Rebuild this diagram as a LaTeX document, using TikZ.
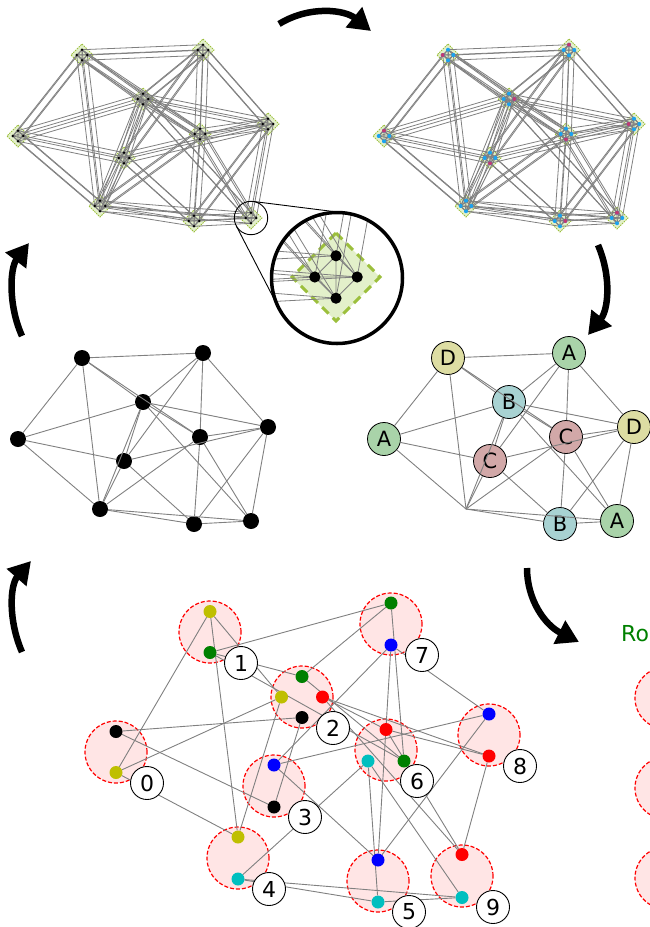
\documentclass[tikz,border=0pt]{standalone}
\usepackage{fontspec}
\setmainfont{DejaVu Sans}
\usetikzlibrary{arrows.meta,calc}
\pgfdeclarelayer{back}
\pgfdeclarelayer{mid}
\pgfsetlayers{back,mid,main}

\definecolor{edgegray}{HTML}{808080}
\definecolor{boxfill}{HTML}{E3F0CA}
\definecolor{boxline}{HTML}{9CBF3C}
\definecolor{pickblue}{HTML}{1AA3F0}
\definecolor{pickmag}{HTML}{C23A72}
\definecolor{colA}{HTML}{A9D3A9}
\definecolor{colB}{HTML}{A8D2D2}
\definecolor{colC}{HTML}{D2A8A8}
\definecolor{colD}{HTML}{DDDDA3}
\definecolor{doty}{HTML}{BFBF00}
\definecolor{dotg}{HTML}{008000}
\definecolor{dotr}{HTML}{FF0000}
\definecolor{dotb}{HTML}{0000FF}
\definecolor{dotc}{HTML}{00BFBF}
\definecolor{dotk}{HTML}{000000}
\definecolor{roundpink}{HTML}{FFE5E5}

% base graph: node/x/y and its edges
\newcommand\basepos{1/82/358,2/203/353,3/143/402,4/18/439,5/200/437,6/268/427,7/124/461,8/100/509,9/194/524,10/251/521}
\newcommand\baseedges{1/2,1/4,1/8,1/3,1/5,2/3,2/7,2/5,2/6,4/3,4/7,4/8,3/7,3/8,3/5,3/6,3/10,5/6,7/6,5/9,5/10,6/9,6/10,7/8,7/9,8/5,8/9,8/10,9/10}

\tikzset{
  thinedge/.style={draw=edgegray, line width=0.8pt},
  graphedge/.style={draw=edgegray, line width=0.9pt},
  clusterbox/.style={fill=boxfill, draw=boxline, line width=0.9pt, dash pattern=on 1.5pt off 1pt},
  smalldot/.style={fill=black},
  blackdot/.style={circle, fill=black, minimum size=16pt, inner sep=0pt},
  letter/.style={circle, draw=black, line width=0.8pt, minimum size=33pt, inner sep=0pt, font=\fontsize{21}{21}\selectfont},
  roundcircle/.style={circle, draw=red, line width=1.2pt, dash pattern=on 4pt off 2pt, fill=roundpink, minimum size=62pt, inner sep=0pt},
  qdot/.style={circle, minimum size=13pt, inner sep=0pt},
  numlabel/.style={circle, draw=black, fill=white, line width=0.9pt, minimum size=33pt, inner sep=0pt, font=\fontsize{22}{22}\selectfont},
  bigarrow/.style={line width=6.5pt, -{Triangle[length=22pt,width=25pt]}},
}

% every node of the base graph as four dots in a diamond
\newcommand\expandedgraph[2]{%
  \foreach \i/\x/\y in \basepos {
    \coordinate (#1\i) at (\x,\y);
    \coordinate (#1\i-t) at (\x,\y-5.3);
    \coordinate (#1\i-r) at (\x+5.3,\y);
    \coordinate (#1\i-b) at (\x,\y+5.3);
    \coordinate (#1\i-l) at (\x-5.3,\y);
    \draw[clusterbox] (#1\i) ++(0,-11) -- ++(11,11) -- ++(-11,11) -- ++(-11,-11) -- cycle;
  }
  \foreach \u/\v in \baseedges {
    \foreach \k in {t,r,b,l} {\draw[thinedge] (#1\u-\k) -- (#1\v-\k);}
  }
  \foreach \i in {1,...,10} {
    \draw[thinedge] (#1\i-t) -- (#1\i-r) -- (#1\i-b) -- (#1\i-l) -- cycle
      (#1\i-t) -- (#1\i-b) (#1\i-l) -- (#1\i-r);
    \foreach \k in {t,r,b,l} {\fill[smalldot] (#1\i-\k) circle (#2);}
  }
}

\begin{document}
\begin{tikzpicture}[x=1pt,y=-1pt]
  \useasboundingbox (0,0) rectangle (650,927);
  \clip (0,0) rectangle (650,927);

  % expanded graph, top left
  \begin{scope}[shift={(0,-303)}]
    \expandedgraph{tl}{1.4}
  \end{scope}

  % expanded graph with picked dots, top right
  \begin{scope}[shift={(366,-303)}, smalldot/.style={fill=pickblue}]
    \expandedgraph{tr}{2}
    \foreach \i/\k in {1/l,2/t,3/r,4/t,5/b,6/l,7/b,9/r,10/t}
      \fill[pickmag] (tr\i-\k) circle (2);
  \end{scope}

  % lens on one cluster
  \coordinate (lens) at (337,278);
  \begin{scope}
    \clip (lens) circle (65.5);
    \fill[white] (lens) circle (65.5);
    \begin{scope}[shift={(336,277)}, scale=4, shift={(-251,-521)},
        clusterbox/.style={fill=boxfill, draw=boxline, line width=3pt, dash pattern=on 9pt off 6pt}]
      \expandedgraph{mg}{1.4}
    \end{scope}
  \end{scope}
  \draw[line width=3.5pt] (lens) circle (65.5);
  \draw[line width=0.9pt] (tl10) circle (16.7);
  \coordinate (tana) at ($(tl10)+(-82.8:16.7)$);
  \coordinate (tanb) at ($(lens)+(-82.8:65.5)$);
  \coordinate (tanc) at ($(tl10)+(152.6:16.7)$);
  \coordinate (tand) at ($(lens)+(152.6:65.5)$);
  \draw[line width=0.9pt] (tana) -- (tanb) (tanc) -- (tand);

  % base graph
  \foreach \i/\x/\y in \basepos
    \node[blackdot] (b\i) at (\x,\y) {};
  \foreach \u/\v in \baseedges
    \draw[graphedge] (b\u) -- (b\v);

  % labelled graph
  \begin{scope}[shift={(366,0)}]
    \node[letter, fill=colD] (lab1) at (82,358) {D};
    \node[letter, fill=colA] (lab2) at (203,353) {A};
    \node[letter, fill=colB] (lab3) at (143,402) {B};
    \node[letter, fill=colA] (lab4) at (18,439) {A};
    \node[letter, fill=colC] (lab5) at (200,437) {C};
    \node[letter, fill=colD] (lab6) at (268,427) {D};
    \node[letter, fill=colC] (lab7) at (124,461) {C};
    \coordinate (lab8) at (100,509);
    \node[letter, fill=colB] (lab9) at (194,524) {B};
    \node[letter, fill=colA] (lab10) at (251,521) {A};
  \end{scope}
  \foreach \u/\v in \baseedges
    \draw[graphedge] (lab\u) -- (lab\v);

  % rounds graph, bottom
  \begin{pgfonlayer}{back}
    \foreach \c/\x/\y in {0/116/752,1/210/632,2/302/697,3/274/786,4/238/858,5/378/881,6/386/750,7/391/624,8/489/735,9/462/876}
      \node[roundcircle] (p\c) at (\x,\y) {};
    \foreach \c/\y in {a/698,b/788,c/878}
      \node[roundcircle] (pr\c) at (666,\y) {};
  \end{pgfonlayer}
  \foreach \c/\col/\dx/\dy in {0/k/0/20.5,0/y/0/-20.5,1/y/0/20.5,1/g/0/-20.5,
      2/g/0/20.5,2/y/-20.5/0,2/r/20.5/0,2/k/0/-20.5,3/b/0/21,3/k/0/-21,
      4/y/0/21,4/c/0/-21,5/b/0/21,5/c/0/-21,6/r/0/20.5,6/c/-18/-11,6/g/18/-11,
      7/g/0/21,7/b/0/-21,8/b/0/21,8/r/0/-21,9/r/0/21.5,9/c/0/-21.5}
    \node[qdot, fill=dot\col, xshift=\dx pt, yshift=\dy pt] (q\c\col) at (p\c) {};
  \begin{pgfonlayer}{mid}
    \foreach \col/\a/\b in {y/0/1,y/0/2,y/0/4,y/1/2,y/1/4,y/2/4,
        g/1/2,g/1/6,g/1/7,g/2/6,g/2/7,g/6/7,
        k/0/2,k/0/3,k/2/3,
        r/2/6,r/2/8,r/2/9,r/6/8,r/6/9,r/8/9,
        b/3/5,b/3/7,b/3/8,b/5/7,b/5/8,b/7/8,
        c/4/5,c/4/6,c/4/9,c/5/6,c/5/9,c/6/9}
      \draw[graphedge] (q\a\col) -- (q\b\col);
  \end{pgfonlayer}
  \foreach \c in {0,...,9}
    \node[numlabel, xshift=31pt, yshift=-31pt] (n\c) at (p\c) {\c};
  \node[anchor=west, text=dotg, font=\fontsize{22}{22}\selectfont, inner sep=0pt] (roundtitle) at (621,634) {Ro};

  % arrows between the steps
  \coordinate (arra) at (279,24);   \coordinate (arrb) at (371,31);
  \coordinate (arrc) at (598,245);  \coordinate (arrd) at (588,335);
  \coordinate (arre) at (22,336);   \coordinate (arrf) at (29,243);
  \coordinate (arrg) at (22,652);   \coordinate (arrh) at (31,561);
  \coordinate (arri) at (527,568);  \coordinate (arrj) at (579,642);
  \draw[bigarrow] (arra) .. controls (310,5) and (345,10) .. (arrb);
  \draw[bigarrow] (arrc) .. controls (612,278) and (608,310) .. (arrd);
  \draw[bigarrow] (arre) .. controls (8,305) and (10,268) .. (arrf);
  \draw[bigarrow] (arrg) .. controls (8,620) and (10,585) .. (arrh);
  \draw[bigarrow] (arri) .. controls (527,600) and (545,625) .. (arrj);
\end{tikzpicture}
\end{document}
